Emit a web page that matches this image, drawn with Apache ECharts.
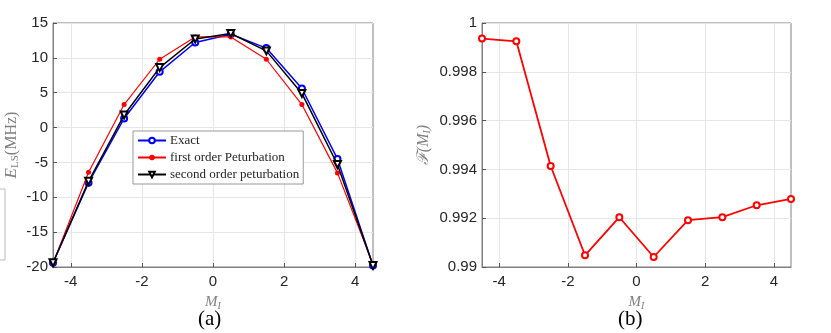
<!DOCTYPE html>
<html>
<head>
<meta charset="utf-8">
<script src="https://cdn.jsdelivr.net/npm/echarts@6/dist/echarts.min.js"></script>
<style>
  html, body { margin: 0; padding: 0; background: #fff; }
  #chart { width: 831px; height: 333px; }
</style>
</head>
<body>
<div id="chart"></div>
<script>
// M_I values
const mI = [-4.5, -3.5, -2.5, -1.5, -0.5, 0.5, 1.5, 2.5, 3.5, 4.5]
// (a) level shifts, MHz
const exact = [-19.4, -7.9, 1.3, 8.0, 12.2, 13.4, 11.4, 5.6, -4.5, -19.8]
const firstOrder = [-19.5, -6.4, 3.3, 9.8, 13.0, 13.0, 9.8, 3.3, -6.5, -19.6]
const secondOrder = [-19.4, -7.7, 1.8, 8.6, 12.7, 13.5, 11.0, 4.9, -5.3, -19.8]
// (b) fidelity
const fidelity = [0.99936, 0.99925, 0.99414, 0.99048, 0.99204, 0.99041, 0.99192, 0.99204, 0.99253, 0.99279]
const xTicks = [-4, -2, 0, 2, 4]

const pair = (ys) => mI.map((x, i) => [x, ys[i]])

const tickFont = { fontFamily: 'Liberation Sans, Arial, sans-serif', fontSize: 15, color: '#262626' }
const gridLineStyle = { color: '#e6e6e6', width: 1 }
const serif = 'Liberation Serif, DejaVu Serif, serif'

const xAxisCommon = (gridIndex) => ({
  type: 'value',
  gridIndex: gridIndex,
  min: -4.5,
  max: 4.5,
  name: '{i|M}{s|I}',
  nameLocation: 'middle',
  nameGap: 27,
  nameTextStyle: {
    rich: {
      i: { fontFamily: serif, fontStyle: 'italic', fontSize: 15, color: '#808080' },
      s: { fontFamily: serif, fontStyle: 'italic', fontSize: 10, color: '#808080', padding: [7, 0, 0, 0] },
    },
  },
  axisLine: { show: true, onZero: false, lineStyle: { color: '#808080' } },
  axisTick: { show: true, inside: true, length: 4, customValues: xTicks, lineStyle: { color: '#555' } },
  axisLabel: { customValues: xTicks, margin: 7, ...tickFont },
  splitLine: { show: true, lineStyle: gridLineStyle },
})

const chart = echarts.init(document.getElementById('chart'))
chart.setOption({
  backgroundColor: '#fff',
  animation: false,
  grid: [
    { left: 53, top: 23, width: 320, height: 244, show: true, borderColor: '#808080', borderWidth: 1 },
    { left: 482, top: 23, width: 309, height: 244, show: true, borderColor: '#808080', borderWidth: 1 },
  ],
  xAxis: [xAxisCommon(0), xAxisCommon(1)],
  yAxis: [
    {
      type: 'value',
      gridIndex: 0,
      min: -20,
      max: 15,
      interval: 5,
      name: '{i|E}{s|LS}{n|(MHz)}',
      nameLocation: 'middle',
      nameGap: 32,
      nameTextStyle: {
        rich: {
          i: { fontFamily: serif, fontStyle: 'italic', fontSize: 17, color: '#808080' },
          s: { fontFamily: serif, fontSize: 11, color: '#808080', padding: [7, 0, 0, 0] },
          n: { fontFamily: serif, fontSize: 16, color: '#808080' },
        },
      },
      axisLine: { show: true, onZero: false, lineStyle: { color: '#808080' } },
      axisTick: { show: true, inside: true, length: 4, lineStyle: { color: '#555' } },
      axisLabel: { margin: 5, ...tickFont },
      splitLine: { show: true, lineStyle: gridLineStyle },
    },
    {
      type: 'value',
      gridIndex: 1,
      min: 0.99,
      max: 1,
      interval: 0.002,
      name: '{i|\u2131(M}{s|I}{i|)}',
      nameLocation: 'middle',
      nameGap: 50,
      nameTextStyle: {
        rich: {
          i: { fontFamily: serif, fontStyle: 'italic', fontSize: 16, color: '#808080' },
          s: { fontFamily: serif, fontStyle: 'italic', fontSize: 10, color: '#808080', padding: [6, 0, 0, 0] },
        },
      },
      axisLine: { show: true, onZero: false, lineStyle: { color: '#808080' } },
      axisTick: { show: true, inside: true, length: 4, lineStyle: { color: '#555' } },
      axisLabel: {
        margin: 5,
        ...tickFont,
        formatter: (v) => String(Math.round(v * 1000) / 1000),
      },
      splitLine: { show: true, lineStyle: gridLineStyle },
    },
  ],
  legend: {
    data: ['Exact', 'first order Peturbation', 'second order peturbation'],
    orient: 'vertical',
    left: 133,
    top: 131,
    padding: [3, 4, 3, 4],
    itemGap: 4,
    itemWidth: 28,
    itemHeight: 7,
    backgroundColor: '#fff',
    borderColor: '#999',
    borderWidth: 1,
    textStyle: { fontFamily: serif, fontSize: 13, color: '#262626', padding: [0, 0, 0, -1] },
  },
  series: [
    {
      name: 'Exact',
      type: 'line',
      xAxisIndex: 0,
      yAxisIndex: 0,
      data: pair(exact),
      symbol: 'emptyCircle',
      symbolSize: 6,
      lineStyle: { color: '#0000ff', width: 1.5 },
      itemStyle: { color: '#0000ff', borderWidth: 1.2 },
      z: 3,
    },
    {
      name: 'first order Peturbation',
      type: 'line',
      xAxisIndex: 0,
      yAxisIndex: 0,
      data: pair(firstOrder),
      symbol: 'circle',
      symbolSize: 5,
      lineStyle: { color: '#ff0000', width: 1.2 },
      itemStyle: { color: '#ff0000' },
      z: 4,
    },
    {
      name: 'second order peturbation',
      type: 'line',
      xAxisIndex: 0,
      yAxisIndex: 0,
      data: pair(secondOrder),
      symbol: 'emptyTriangle',
      symbolRotate: 180,
      symbolSize: 7,
      lineStyle: { color: '#000000', width: 1.5 },
      itemStyle: { color: '#000000', borderWidth: 1.2 },
      z: 5,
    },
    {
      name: 'fidelity',
      type: 'line',
      xAxisIndex: 1,
      yAxisIndex: 1,
      data: pair(fidelity),
      symbol: 'emptyCircle',
      symbolSize: 6,
      lineStyle: { color: '#ff0000', width: 1.8 },
      itemStyle: { color: '#ff0000', borderWidth: 1.2 },
    },
  ],
  graphic: [
    {
      type: 'text',
      left: 198,
      top: 309,
      style: { text: '(a)', font: '21px "Liberation Serif", serif', fill: '#000' },
    },
    {
      type: 'text',
      left: 618,
      top: 309,
      style: { text: '(b)', font: '21px "Liberation Serif", serif', fill: '#000' },
    },
    // edge of the neighbouring panel that is cut off on the left
    {
      type: 'rect',
      shape: { x: -10, y: 189, width: 15, height: 71 },
      style: { fill: 'none', stroke: '#bbb', lineWidth: 1 },
    },
  ],
})
</script>
</body>
</html>
